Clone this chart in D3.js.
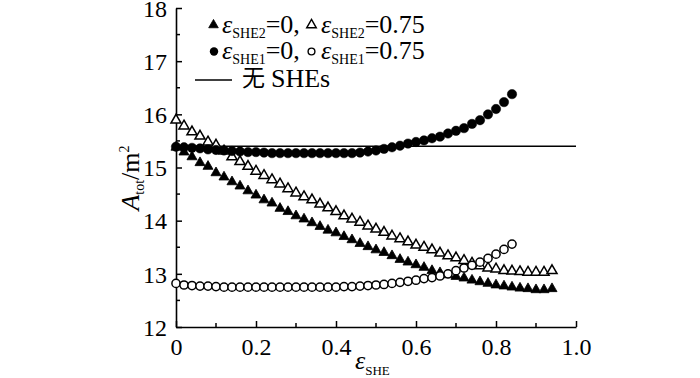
<!DOCTYPE html>
<html>
<head>
<meta charset="utf-8">
<script src="https://cdn.jsdelivr.net/npm/d3@7"></script>
<style>
  html, body { margin: 0; padding: 0; background: #fff; }
  svg { display: block; }
  text { font-family: "Liberation Serif", "Times New Roman", "Noto Sans CJK SC", serif; fill: #000; }
</style>
</head>
<body>
<svg id="chart" width="700" height="378"></svg>
<script>
// ---------------- data ----------------
const xTri = [0,0.02,0.04,0.06,0.08,0.10,0.12,0.14,0.16,0.18,0.20,0.22,0.24,0.26,0.28,0.30,0.32,0.34,0.36,0.38,0.40,0.42,0.44,0.46,0.48,0.50,0.52,0.54,0.56,0.58,0.60,0.62,0.64,0.66,0.68,0.70,0.72,0.74,0.76,0.78,0.80,0.82,0.84,0.86,0.88,0.90,0.92,0.94];
const xCirc = [0,0.02,0.04,0.06,0.08,0.10,0.12,0.14,0.16,0.18,0.20,0.22,0.24,0.26,0.28,0.30,0.32,0.34,0.36,0.38,0.40,0.42,0.44,0.46,0.48,0.50,0.52,0.54,0.56,0.58,0.60,0.62,0.64,0.66,0.68,0.70,0.72,0.74,0.76,0.78,0.80,0.82,0.84];

// epsilon_SHE2 = 0 (filled triangles)
const she2Zero = [15.38,15.29,15.20,15.09,15.02,14.90,14.82,14.73,14.65,14.56,14.48,14.39,14.33,14.23,14.17,14.09,14.03,13.96,13.89,13.82,13.77,13.70,13.64,13.57,13.51,13.45,13.40,13.34,13.27,13.22,13.17,13.12,13.06,13.02,12.98,12.95,12.92,12.88,12.85,12.82,12.79,12.77,12.75,12.73,12.72,12.70,12.70,12.72];
// epsilon_SHE2 = 0.75 (open triangles)
const she2Hi = [15.89,15.78,15.67,15.59,15.48,15.42,15.31,15.20,15.11,15.02,14.93,14.85,14.77,14.69,14.60,14.52,14.45,14.39,14.31,14.24,14.17,14.09,14.03,13.97,13.90,13.84,13.78,13.71,13.66,13.60,13.54,13.50,13.45,13.39,13.34,13.30,13.25,13.20,13.15,13.11,13.09,13.06,13.05,13.04,13.03,13.03,13.03,13.06];
// epsilon_SHE1 = 0 (filled circles)
const she1Zero = [15.39,15.38,15.37,15.36,15.34,15.33,15.32,15.31,15.30,15.29,15.29,15.28,15.27,15.27,15.27,15.27,15.27,15.27,15.27,15.27,15.27,15.27,15.27,15.28,15.30,15.32,15.35,15.38,15.41,15.45,15.48,15.51,15.55,15.58,15.64,15.69,15.74,15.82,15.89,16.00,16.10,16.23,16.38];
// epsilon_SHE1 = 0.75 (open circles)
const she1Hi = [12.82,12.79,12.78,12.77,12.77,12.76,12.75,12.75,12.75,12.75,12.75,12.75,12.75,12.75,12.75,12.75,12.75,12.75,12.75,12.75,12.75,12.76,12.76,12.77,12.78,12.79,12.80,12.82,12.84,12.86,12.88,12.91,12.93,12.96,13.00,13.06,13.11,13.16,13.22,13.29,13.37,13.46,13.56];
// no SHEs reference
const noSHE = 15.40;

const xTicks = [0, 0.2, 0.4, 0.6, 0.8, 1.0];
const xTickLabels = ["0", "0.2", "0.4", "0.6", "0.8", "1.0"];
const xMinor = [0.1, 0.3, 0.5, 0.7, 0.9];
const yTicks = [12, 13, 14, 15, 16, 17, 18];
const yMinor = [12.5, 13.5, 14.5, 15.5, 16.5, 17.5];

// ---------------- layout ----------------
const svg = d3.select("#chart");
const x = d3.scaleLinear().domain([0, 1]).range([176, 576]);
const y = d3.scaleLinear().domain([12, 18]).range([327, 8]);

// reference line
svg.append("line")
  .attr("x1", x(0)).attr("x2", x(1))
  .attr("y1", y(noSHE)).attr("y2", y(noSHE))
  .attr("stroke", "#000").attr("stroke-width", 1.6);

// axes
const xAxis = svg.append("g").attr("transform", `translate(0,${y(12)})`)
  .call(d3.axisBottom(x).tickValues(xTicks).tickSizeInner(-6).tickSizeOuter(0)
        .tickFormat((d, i) => xTickLabels[i]).tickPadding(11));
xAxis.append("g").selectAll("line").data(xMinor).join("line")
  .attr("x1", d => x(d)).attr("x2", d => x(d)).attr("y1", 0).attr("y2", -4)
  .attr("stroke", "#000").attr("stroke-width", 1.5);

const yAxis = svg.append("g").attr("transform", `translate(${x(0)},0)`)
  .call(d3.axisLeft(y).tickValues(yTicks).tickSizeInner(-6).tickSizeOuter(0)
        .tickFormat(d3.format("d")).tickPadding(9));
yAxis.append("g").selectAll("line").data(yMinor).join("line")
  .attr("x1", 0).attr("x2", 4).attr("y1", d => y(d)).attr("y2", d => y(d))
  .attr("stroke", "#000").attr("stroke-width", 1.5);

[xAxis, yAxis].forEach(g => {
  g.attr("font-family", null);
  g.select(".domain").attr("stroke", "#000").attr("stroke-width", 1.6);
  g.selectAll(".tick line").attr("stroke", "#000").attr("stroke-width", 1.5);
  g.selectAll(".tick text").style("font-family", "'Liberation Serif', serif")
    .attr("font-size", 24).attr("fill", "#000");
});
yAxis.selectAll(".tick text").attr("dy", "0.34em");

// markers
const triPath = d3.symbol().type(d3.symbolTriangle).size(44)();
const triPathL = d3.symbol().type(d3.symbolTriangle).size(40)();

function drawTri(vals, filled) {
  svg.append("g").selectAll("path").data(vals).join("path")
    .attr("d", triPath)
    .attr("transform", (d, i) => `translate(${x(xTri[i])},${y(d)})`)
    .attr("fill", filled ? "#000" : "#fff")
    .attr("stroke", "#000").attr("stroke-width", filled ? 0.8 : 1.5);
}
function drawCirc(vals, filled) {
  svg.append("g").selectAll("circle").data(vals).join("circle")
    .attr("cx", (d, i) => x(xCirc[i])).attr("cy", d => y(d))
    .attr("r", filled ? 4.7 : 4.1)
    .attr("fill", filled ? "#000" : "#fff")
    .attr("stroke", "#000").attr("stroke-width", filled ? 0.5 : 1.5);
}
drawTri(she2Zero, true);
drawTri(she2Hi, false);
drawCirc(she1Hi, false);
drawCirc(she1Zero, true);

// ---------------- legend ----------------
const lg = svg.append("g");
function epsLabel(xPos, yBase, sub, rest) {
  const t = lg.append("text").attr("x", xPos).attr("y", yBase).attr("font-size", 26);
  t.append("tspan").attr("font-style", "italic").text("ε");
  t.append("tspan").attr("font-size", 14).attr("dy", 5).text(sub);
  t.append("tspan").attr("dy", -5).text(rest);
}
// row 1
lg.append("path").attr("d", triPathL).attr("transform", "translate(213.5,25)")
  .attr("fill", "#000").attr("stroke", "#000").attr("stroke-width", 0.8);
epsLabel(222, 33, "SHE2", "=0,");
lg.append("path").attr("d", triPathL).attr("transform", "translate(311.5,25)")
  .attr("fill", "#fff").attr("stroke", "#000").attr("stroke-width", 1.4);
epsLabel(321, 33, "SHE2", "=0.75");
// row 2
lg.append("circle").attr("cx", 214).attr("cy", 51.5).attr("r", 4.2).attr("fill", "#000");
epsLabel(222, 59, "SHE1", "=0,");
lg.append("circle").attr("cx", 311.5).attr("cy", 51.5).attr("r", 3.4)
  .attr("fill", "#fff").attr("stroke", "#000").attr("stroke-width", 1.4);
epsLabel(321, 59, "SHE1", "=0.75");
// row 3
lg.append("line").attr("x1", 195).attr("x2", 232).attr("y1", 80).attr("y2", 80)
  .attr("stroke", "#000").attr("stroke-width", 1.6);
lg.append("text").attr("x", 242).attr("y", 86).attr("font-size", 23)
  .style("font-family", "'Noto Sans CJK SC', sans-serif").text("无");
lg.append("text").attr("x", 271).attr("y", 87).attr("font-size", 26).text("SHEs");

// ---------------- axis titles ----------------
const xt = svg.append("text").attr("x", 355).attr("y", 369).attr("font-size", 26);
xt.append("tspan").attr("font-style", "italic").text("ε");
xt.append("tspan").attr("font-size", 13).attr("dy", 6).text("SHE");

const yt = svg.append("text").attr("transform", "translate(139,178) rotate(-90)")
  .attr("text-anchor", "middle").attr("font-size", 26);
yt.append("tspan").attr("font-style", "italic").text("A");
yt.append("tspan").attr("font-size", 14).attr("dy", 5).text("tot");
yt.append("tspan").attr("dy", -5).text("/m");
yt.append("tspan").attr("font-size", 14).attr("dy", -10).text("2");
</script>
</body>
</html>
